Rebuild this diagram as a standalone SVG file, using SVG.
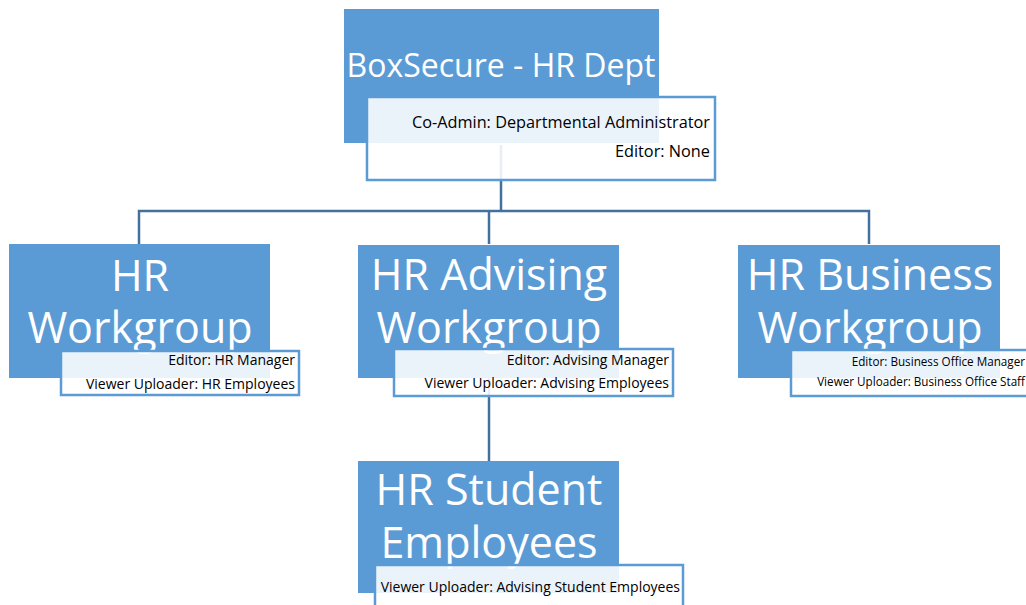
<svg xmlns="http://www.w3.org/2000/svg" width="1026" height="605" viewBox="0 0 1026 605">
<style>
.blue{fill:#5B9BD5;}
.note{fill:#FFFFFF;fill-opacity:0.88;stroke:#5B9BD5;stroke-width:2.5;}
.big{font-family:"Open Sans","Noto Sans",sans-serif;fill:#FFFFFF;text-anchor:middle;}
.small{font-family:"Open Sans","Noto Sans",sans-serif;fill:#000000;text-anchor:end;}
.conn{fill:none;stroke:#41719C;stroke-width:2.5;}
</style>
<rect width="1026" height="605" fill="#FFFFFF"/>
<g id="connectors">
<path class="conn" d="M501 145 V211 M139 244 V211 H869 V244 M489 211 V244"/>
<path class="conn" d="M489 378 V461"/>
</g>
<g id="root">
<rect class="blue" x="344" y="9" width="315" height="134"/>
<text class="big" x="501" y="77" font-size="32">BoxSecure - HR Dept</text>
<rect class="note" x="367" y="97" width="348" height="83"/>
<text class="small" x="710" y="128" font-size="16.3">Co-Admin: Departmental Administrator</text>
<text class="small" x="710" y="157" font-size="16.3">Editor: None</text>
</g>
<g id="hr-workgroup">
<rect class="blue" x="9" y="244" width="261" height="134"/>
<text class="big" x="140" y="291" font-size="43">HR</text>
<text class="big" x="140" y="343" font-size="43">Workgroup</text>
<rect class="note" x="61" y="351" width="238" height="44"/>
<text class="small" x="295" y="365" font-size="14">Editor: HR Manager</text>
<text class="small" x="295" y="389" font-size="14">Viewer Uploader: HR Employees</text>
</g>
<g id="hr-advising">
<rect class="blue" x="358" y="245" width="261" height="133"/>
<text class="big" x="489" y="290" font-size="43">HR Advising</text>
<text class="big" x="489" y="343" font-size="43">Workgroup</text>
<rect class="note" x="394" y="349" width="279" height="47"/>
<text class="small" x="669" y="365" font-size="14">Editor: Advising Manager</text>
<text class="small" x="669" y="388" font-size="14">Viewer Uploader: Advising Employees</text>
</g>
<g id="hr-business">
<rect class="blue" x="738" y="245" width="262" height="133"/>
<text class="big" x="870" y="290" font-size="43">HR Business</text>
<text class="big" x="870" y="343" font-size="43">Workgroup</text>
<rect class="note" x="791" y="350" width="250" height="46"/>
<text class="small" x="1025" y="366" font-size="11.7">Editor: Business Office Manager</text>
<text class="small" x="1025" y="386" font-size="11.7">Viewer Uploader: Business Office Staff</text>
</g>
<g id="hr-student">
<rect class="blue" x="358" y="461" width="261" height="132"/>
<text class="big" x="489" y="505" font-size="43">HR Student</text>
<text class="big" x="489" y="558" font-size="43">Employees</text>
<rect class="note" x="375" y="565" width="308" height="50"/>
<text class="small" x="680" y="592" font-size="14">Viewer Uploader: Advising Student Employees</text>
</g>
</svg>
